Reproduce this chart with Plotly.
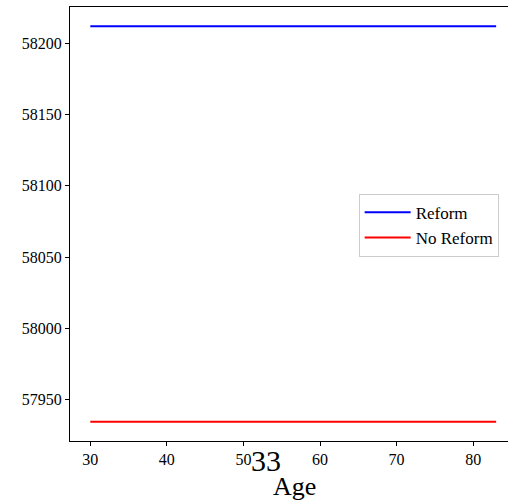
import plotly.graph_objects as go

# Age span and steady-state levels for the two scenarios
ages = [30, 83]
reform = [58212.0, 58212.0]
no_reform = [57934.5, 57934.5]
x_ticks = [30, 40, 50, 60, 70, 80]
y_ticks = [57950, 58000, 58050, 58100, 58150, 58200]

FONT = "Liberation Serif"
PLOT_LEFT, PLOT_W, PLOT_BOTTOM, PLOT_H = 70, 438, 441, 434

fig = go.Figure()
fig.add_trace(go.Scatter(x=ages, y=reform, mode="lines", name="Reform",
                         line=dict(color="#0000ff", width=2)))
fig.add_trace(go.Scatter(x=ages, y=no_reform, mode="lines", name="No Reform",
                         line=dict(color="#ff0000", width=2)))

fig.update_layout(
    width=508, height=502,
    margin=dict(l=70, r=0, t=7, b=61),
    paper_bgcolor="white", plot_bgcolor="white",
    font=dict(family=FONT, color="black", size=16),
    showlegend=True,
    legend=dict(x=0.659, y=0.497, xanchor="left", yanchor="middle",
                bgcolor="white", bordercolor="#cccccc", borderwidth=1,
                itemwidth=46,
                font=dict(family=FONT, size=17), tracegroupgap=0),
    xaxis=dict(range=[27.35, 84.55], tickvals=x_ticks, showgrid=False,
               zeroline=False, showline=True, linecolor="black", linewidth=1,
               mirror=True, ticks="outside", ticklen=4, tickcolor="black",
               tickfont=dict(family=FONT, size=16)),
    yaxis=dict(range=[57921.0, 58225.5], tickvals=y_ticks, tickformat="d",
               showgrid=False, zeroline=False, showline=True, linecolor="black",
               linewidth=1, mirror=False, ticks="outside", ticklen=4,
               tickcolor="black", tickfont=dict(family=FONT, size=16)),
)

# x-axis label, centred on the full axis span
fig.add_annotation(text="Age", xref="paper", yref="paper",
                   x=(294 - PLOT_LEFT) / PLOT_W, y=-(486 - PLOT_BOTTOM) / PLOT_H,
                   xanchor="center", yanchor="middle", showarrow=False,
                   font=dict(family=FONT, size=26, color="black"))

fig.add_annotation(text="33", xref="paper", yref="paper",
                   x=(266 - PLOT_LEFT) / PLOT_W, y=-(460 - PLOT_BOTTOM) / PLOT_H,
                   xanchor="center", yanchor="middle", showarrow=False,
                   font=dict(family=FONT, size=30, color="black"))

fig.write_html("out.html")
